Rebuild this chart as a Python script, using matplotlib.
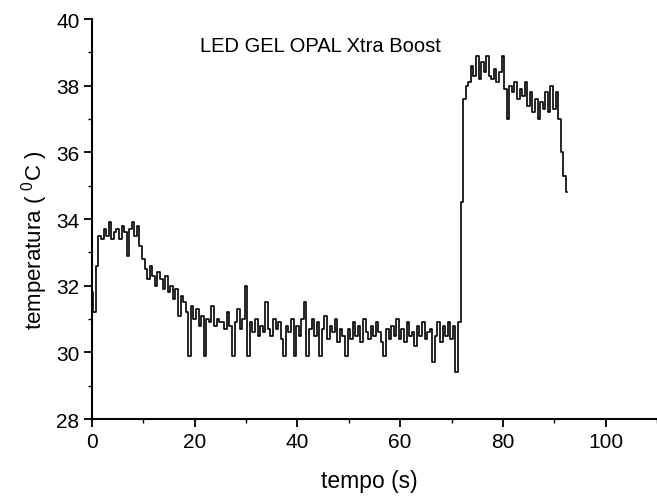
import numpy as np
import matplotlib
matplotlib.use("Agg")
import matplotlib.pyplot as plt
from matplotlib.ticker import MultipleLocator

# time step of the digitised record (s)
dt = 0.5

temp_00_10 = [31.8, 31.2, 32.6, 33.5, 33.4, 33.7, 33.5, 33.9, 33.4, 33.6,
              33.7, 33.4, 33.8, 33.6, 32.9, 33.7, 33.9, 33.5, 33.8, 33.2]
temp_10_20 = [32.8, 32.5, 32.2, 32.6, 32.3, 32.0, 32.4, 32.2, 31.9, 32.3,
              31.8, 32.0, 31.6, 31.9, 31.1, 31.7, 31.5, 31.2, 29.9, 31.4]
temp_20_30 = [31.0, 31.3, 30.8, 31.1, 29.9, 31.0, 30.9, 31.4, 30.8, 31.0,
              30.9, 30.9, 30.7, 31.2, 30.8, 29.9, 30.9, 31.3, 30.7, 31.0]
temp_30_40 = [32.0, 29.9, 30.9, 30.6, 31.0, 30.5, 30.8, 30.6, 31.5, 30.7,
              30.5, 31.0, 30.7, 30.9, 30.4, 29.9, 30.8, 30.6, 31.0, 29.9]
temp_40_50 = [30.8, 30.5, 31.0, 31.5, 29.9, 30.7, 31.0, 30.5, 30.9, 29.9,
              30.7, 31.1, 30.4, 30.8, 30.6, 31.0, 30.3, 30.7, 30.5, 29.9]
temp_50_60 = [30.7, 30.4, 30.9, 30.5, 30.8, 30.3, 31.0, 30.6, 30.4, 30.8,
              30.5, 30.9, 30.6, 30.3, 29.9, 30.7, 30.4, 30.8, 30.5, 31.0]
temp_60_70 = [30.4, 30.7, 30.3, 30.9, 30.5, 30.6, 30.2, 30.8, 30.5, 30.9,
              30.4, 30.6, 30.7, 29.7, 30.5, 30.9, 30.3, 30.8, 30.5, 30.9]
temp_70_80 = [30.4, 30.8, 29.4, 30.9, 34.5, 37.6, 38.0, 38.1, 38.6, 38.3,
              38.9, 38.2, 38.7, 38.4, 38.9, 38.3, 38.2, 38.5, 38.1, 38.4]
temp_80_90 = [38.9, 37.9, 37.0, 38.0, 37.8, 38.1, 37.6, 37.9, 37.7, 38.1,
              37.4, 37.8, 37.2, 37.6, 37.0, 37.5, 37.3, 37.8, 37.2, 38.0]
temp_90_end = [37.3, 37.8, 37.0, 36.0, 35.3, 34.8]

temperatura = np.array(temp_00_10 + temp_10_20 + temp_20_30 + temp_30_40 +
                       temp_40_50 + temp_50_60 + temp_60_70 + temp_70_80 +
                       temp_80_90 + temp_90_end)
tempo = np.arange(len(temperatura)) * dt

title_text = "LED GEL OPAL Xtra Boost"
x_label = "tempo (s)"
y_label = "temperatura ( $^{\\mathregular{0}}$C )"

plt.rcParams['font.family'] = ['Liberation Sans', 'DejaVu Sans']
plt.rcParams['mathtext.fontset'] = 'custom'
plt.rcParams['mathtext.rm'] = 'Liberation Sans'

fig = plt.figure(figsize=(6.57, 5.02), dpi=100)
ax = fig.add_axes([0.140, 0.163, 0.860, 0.797])

ax.plot(tempo, temperatura, color='black', linewidth=1.2,
        drawstyle='steps-mid')

ax.set_xlim(0, 110)
ax.set_ylim(28, 40)
ax.xaxis.set_major_locator(MultipleLocator(20))
ax.xaxis.set_minor_locator(MultipleLocator(10))
ax.yaxis.set_major_locator(MultipleLocator(2))
ax.yaxis.set_minor_locator(MultipleLocator(1))

for s in ['top', 'right']:
    ax.spines[s].set_visible(False)
for s in ['left', 'bottom']:
    ax.spines[s].set_linewidth(1.5)

ax.tick_params(axis='both', which='major', direction='out', length=6,
               width=1.3, labelsize=15, pad=3)
ax.tick_params(axis='both', which='minor', direction='out', length=3,
               width=1.0)

ax.set_xlabel(x_label, fontsize=16.5)
ax.set_ylabel(y_label, fontsize=16)
ax.xaxis.set_label_coords(0.49, -0.125)
ax.yaxis.set_label_coords(-0.075, 0.45)

ax.text(44.4, 39.2, title_text, ha='center', va='center', fontsize=14.5)

fig.savefig("out.png", dpi=100)
